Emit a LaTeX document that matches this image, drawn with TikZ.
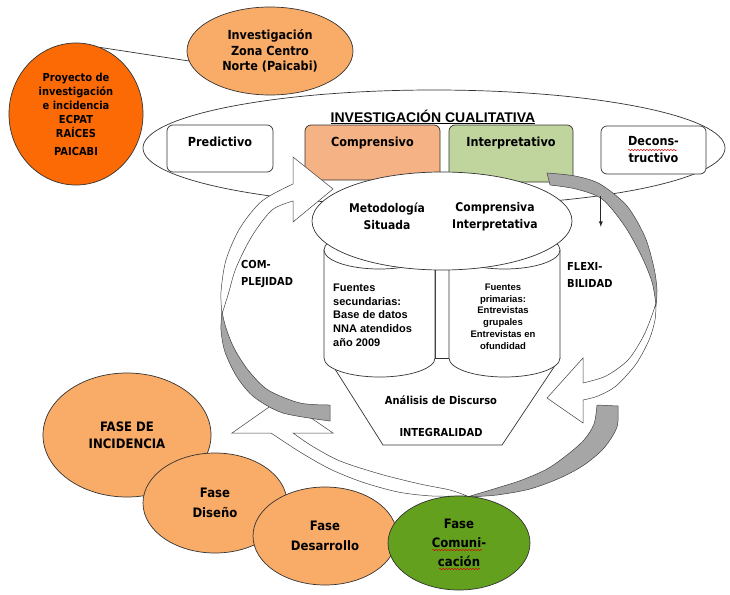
\documentclass[tikz,border=0pt]{standalone}
\usepackage{fontspec}
\newfontfamily\tah{DejaVu Sans}[FakeStretch=0.9]
\newfontfamily\ari{Liberation Sans}
\usetikzlibrary{shapes.geometric,decorations.pathmorphing}

\definecolor{deeporange}{RGB}{252,106,6}
\definecolor{peach}{RGB}{249,171,104}
\definecolor{boxpeach}{RGB}{245,178,132}
\definecolor{boxgreen}{RGB}{191,213,157}
\definecolor{leafgreen}{RGB}{98,160,30}
\definecolor{ribbon}{RGB}{166,166,166}

\begin{document}
\begin{tikzpicture}[x=1pt,y=-1pt,
    outline/.style={draw=black!80,line width=0.7pt},
    blob/.style={ellipse,outline,inner sep=0pt,align=center},
    phase/.style={blob,fill=peach,font=\tah\bfseries\fontsize{13}{20}\selectfont},
    qbox/.style={rectangle,rounded corners=6pt,outline,inner sep=0pt,align=center,
        font=\tah\bfseries\fontsize{12.5}{17}\selectfont},
    band/.style={draw=black!75,line width=0.5pt,fill=white},
    backband/.style={draw=black!75,line width=0.5pt,fill=ribbon},
    tahtext/.style={inner sep=0pt,align=center,font=\tah\bfseries\fontsize{12}{17}\selectfont},
    aritext/.style={inner sep=0pt,font=\ari\bfseries\fontsize{11}{13.7}\selectfont},
    squiggle/.style={red!85!black,line width=0.45pt,decorate,
        decoration={snake,amplitude=0.7pt,segment length=3pt}}]
    \useasboundingbox (0,0) rectangle (730,594);

    % investigacion cualitativa
    \node[blob,fill=white,minimum width=582pt,minimum height=116pt] (qual) at (434,148) {};
    \node[inner sep=0pt,font=\ari\bfseries\fontsize{14}{16}\selectfont] (qualt) at (433,117)
        {\underline{INVESTIGACIÓN CUALITATIVA}};
    \node[qbox,fill=white,minimum width=106pt,minimum height=47pt,text height=8pt,text depth=13pt]
        (pred) at (220,148.5) {Predictivo};
    \node[qbox,fill=boxpeach,minimum width=135pt,minimum height=55pt,text height=8pt,text depth=21pt]
        (compr) at (372.5,152.5) {Comprensivo};
    \node[qbox,fill=boxgreen,minimum width=124pt,minimum height=57pt,text height=8pt,text depth=23pt]
        (interp) at (511,153.5) {Interpretativo};
    \node[qbox,fill=white,minimum width=105pt,minimum height=48pt] (decons) at (653.5,150)
        {Decons-\\tructivo};
    \draw[squiggle] (628,150) -- (677,150);

    % flechas circulares
    \draw[band] plot[smooth] coordinates {(467,496) (432,496) (398,492) (362,482) (330,469) (300,452) (271,433)}
        -- (232,433) -- (282,398) -- (333,433)
        -- plot[smooth] coordinates {(293,433) (312,446) (340,461) (380,474) (420,484) (450,490) (467,496)} -- cycle;
    \draw[backband] plot[smooth] coordinates {(618,406) (617,427) (604,448) (584,465) (560,478) (530,489) (497,495) (467,497)}
        -- plot[smooth] coordinates {(467,497) (497,488) (522,480) (547,469) (567,455) (584,440) (594,424) (597,405)} -- cycle;

    \draw[band] plot[smooth] coordinates {(222,314) (221,292) (226,260) (240,228) (262,201) (293,184)}
        -- (293,157) -- (333,189) -- (293,222)
        -- plot[smooth] coordinates {(293,201) (272,210) (252,236) (236,268) (228,295) (222,314)} -- cycle;
    \draw[backband] plot[smooth] coordinates {(222,312) (221,330) (225,352) (237,377) (254,397) (283,413) (330,421)}
        -- plot[smooth] coordinates {(330,405) (300,403) (268,390) (248,370) (234,348) (226,328) (222,312)} -- cycle;

    \draw[band] plot[smooth] coordinates {(656,303) (655,320) (649,340) (636,364) (616,386) (598,396) (583,400)}
        -- (583,423) -- (547,398) -- (583,358)
        -- plot[smooth] coordinates {(583,383) (606,376) (628,360) (643,337) (651,318) (656,303)} -- cycle;
    \draw[backband] plot[smooth] coordinates {(547,173) (575,176) (600,184) (627,206) (645,237) (654,268) (657,290) (656,305)}
        -- plot[smooth] coordinates {(656,305) (652,282) (641,255) (624,225) (602,199) (576,189) (550,185)} -- cycle;

    % embudo y cilindros
    \draw[outline,fill=white] (328,358) -- (383,445) -- (502,445) -- (560,358) -- cycle;
    \draw[outline,fill=white] (435,268) rectangle (449,358);
    \draw[outline,fill=white] (324,250) -- (324,358) arc[start angle=180,end angle=0,x radius=55.5,y radius=19] -- (435,250) -- cycle;
    \draw[outline,fill=white] (379.5,250) ellipse[x radius=55.5,y radius=19];
    \draw[outline,fill=white] (449,250) -- (449,358) arc[start angle=180,end angle=0,x radius=55.5,y radius=19] -- (560,250) -- cycle;
    \draw[outline,fill=white] (504.5,250) ellipse[x radius=55.5,y radius=19];

    \node[aritext,anchor=west,align=left] (secund) at (333,315) {Fuentes\\secundarias:\\Base de datos\\NNA atendidos\\año 2009};
    \node[inner sep=0pt,align=center,font=\ari\bfseries\fontsize{9.5}{11.8}\selectfont] (prim) at (503,316.5)
        {Fuentes\\primarias:\\Entrevistas\\grupales\\Entrevistas en\\ofundidad};
    \node[tahtext,font=\tah\bfseries\fontsize{11}{17}\selectfont] (anal) at (441,400) {Análisis de Discurso};
    \node[tahtext,font=\tah\bfseries\fontsize{11}{17}\selectfont] (integ) at (441,432) {INTEGRALIDAD};

    % metodologia
    \node[blob,fill=white,minimum width=260pt,minimum height=98pt] (metod) at (442,221) {};
    \node[tahtext] (situada) at (387,216.5) {Metodología\\Situada};
    \node[tahtext] (compint) at (495,216.5) {Comprensiva\\Interpretativa};

    \node[tahtext,anchor=west,align=left,font=\tah\bfseries\fontsize{11}{17}\selectfont] (complej) at (241,274) {COM-\\PLEJIDAD};
    \node[tahtext,anchor=west,align=left,font=\tah\bfseries\fontsize{11}{17}\selectfont] (flexib) at (567,275) {FLEXI-\\BILIDAD};
    \draw[-latex,black!85,line width=0.9pt] (qual.-16) -- ++(0,31);

    % fases
    \node[phase,minimum width=168pt,minimum height=124pt] (incid) at (127,435) {FASE DE\\[-3pt]INCIDENCIA};
    \node[phase,minimum width=144pt,minimum height=100pt] (diseno) at (215,503) {Fase\\Diseño};
    \node[phase,minimum width=144pt,minimum height=98pt] (desarr) at (325,536) {Fase\\Desarrollo};
    \node[phase,fill=leafgreen,minimum width=142pt,minimum height=94pt,font=\tah\bfseries\fontsize{13}{19}\selectfont]
        (comun) at (459,543) {Fase\\Comuni-\\cación};
    \draw[squiggle] (432,550) -- (482,550);
    \draw[squiggle] (439,569) -- (480,569);

    % proyecto y zona
    \node[blob,fill=deeporange,minimum width=134pt,minimum height=142pt,font=\tah\bfseries\fontsize{11}{14.2}\selectfont]
        (proy) at (76,114) {Proyecto de\\investigación\\e incidencia\\ECPAT\\RAÍCES\\[3pt]PAICABI};
    \node[blob,fill=peach,minimum width=166pt,minimum height=88pt,font=\tah\bfseries\fontsize{12.5}{15.5}\selectfont]
        (zona) at (270,51) {Investigación\\Zona Centro\\Norte (Paicabi)};
    \draw[outline] (proy.70) -- (zona.187);
\end{tikzpicture}
\end{document}
